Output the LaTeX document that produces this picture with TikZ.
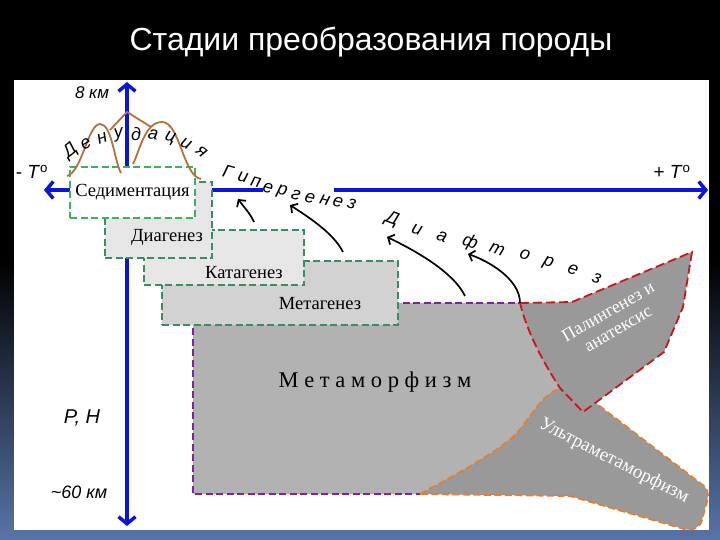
\documentclass[tikz,border=0pt]{standalone}
\usepackage{fontspec}
\setmainfont{Liberation Serif}
\setsansfont{Liberation Sans}
\usetikzlibrary{arrows.meta, positioning, calc}

\definecolor{axisblue}{RGB}{12,20,215}
\definecolor{sedgreen}{RGB}{64,176,96}
\definecolor{stagegreen}{RGB}{58,140,98}
\definecolor{metapurple}{RGB}{130,30,170}
\definecolor{palred}{RGB}{205,20,25}
\definecolor{ultraorange}{RGB}{232,125,45}
\definecolor{hillbrown}{RGB}{180,112,62}
\definecolor{bgblue}{RGB}{88,116,168}
\definecolor{lightfill}{RGB}{230,230,230}
\definecolor{midfill}{RGB}{210,210,210}
\definecolor{metafill}{RGB}{178,178,178}
\definecolor{deepfill}{RGB}{153,153,153}

\begin{document}
\begin{tikzpicture}[
    x=1pt, y=-1pt,
    axis/.style={
        axisblue,
        line width=3.5pt,
        -{Straight Barb[length=7pt, width=17pt]}
    },
    stagebox/.style={
        draw=stagegreen,
        line width=1.8pt,
        dash pattern=on 7pt off 3.5pt,
        anchor=north west,
        inner sep=0pt,
        outer sep=0pt
    },
    stagetext/.style={
        font=\fontsize{18.5}{21}\selectfont
    },
    regiontext/.style={
        font=\fontsize{18}{20}\selectfont,
        text=white
    },
    axislabel/.style={
        font=\sffamily\itshape\fontsize{17}{19}\selectfont
    },
    spreadletter/.style={
        font=\sffamily\itshape\fontsize{18}{20}\selectfont,
        inner sep=0pt
    },
    hill/.style={hillbrown, line width=1.8pt},
    flowarrow/.style={
        black,
        line width=1.7pt,
        -{Straight Barb[length=5pt, width=11pt]}
    }
]

    % Slide background and panel
    \useasboundingbox (0,0) rectangle (720,540);
    \fill[black] (0,0) rectangle (720,540);
    \shade[top color=black, bottom color=bgblue] (0,260) rectangle (720,540);
    \fill[white] (14,80) rectangle (709,530);

    % Title
    \node[text=white, font=\sffamily\fontsize{32}{36}\selectfont] (title) at (371,42) {Стадии преобразования породы};

    % Metamorphism
    \fill[metafill] (193,303) -- (525,303) -- (583,412) -- (500,494) -- (193,494) -- cycle;
    \draw[metapurple, line width=1.8pt, dash pattern=on 7pt off 3.5pt] (525,303) -- (193,303) -- (193,494) -- (420,494);
    \node[font=\fontsize{22.5}{24}\selectfont] (metaT) at (375,382) {М е т а м о р ф и з м};

    % Ultrametamorphism
    \filldraw[fill=deepfill, draw=ultraorange, line width=1.8pt, dash pattern=on 7pt off 3.5pt]
        (420,494) .. controls (465,470) and (500,450) .. (517,433)
        .. controls (530,418) and (540,398) .. (556,390) -- (585,382) -- (597,404)
        -- (704,486) .. controls (710,492) and (708,498) .. (706,505) -- (702,520)
        .. controls (700,528) and (692,531) .. (684,529) -- (570,496) -- cycle;
    \node[regiontext, font=\fontsize{19}{21}\selectfont, rotate=-27] (ultraT) at (614,461) {Ультраметаморфизм};

    % Palingenesis
    \coordinate (palTL) at (520,303);
    \filldraw[fill=deepfill, draw=palred, line width=1.8pt, dash pattern=on 9pt off 4pt]
        (palTL) -- (572,302) -- (692,252) -- (683,307) -- (664,352) -- (583,412) -- (560,388)
        .. controls (545,365) and (528,335) .. (palTL) -- cycle;
    \node[regiontext, rotate=30, align=center] (palT) at (613,320) {Палингенез и\\анатексис};

    % Axes
    \coordinate (orig) at (127,190);
    \coordinate (tminus) at (44,190);
    \coordinate (tplus) at (708,190);
    \coordinate (hup) at (127,82);
    \coordinate (hdown) at (127,526);
    \coordinate (gapL) at (263,190);
    \coordinate (gapR) at (334,190);
    \draw[axis] (gapL) -- (tminus);
    \draw[axis] (gapR) -- (tplus);
    \draw[axis] (orig) -- (hup);
    \draw[axis] (orig) -- (hdown);

    % Stages
    \node[stagebox, fill=midfill, minimum width=236pt, minimum height=64pt] (metag) at (162,261) {};
    \node[stagebox, fill=lightfill, minimum width=160pt, minimum height=55pt] (katag) at (144,230) {};
    \node[stagebox, fill=lightfill, minimum width=107pt, minimum height=76pt] (diag) at (105,182) {};
    \node[stagebox, draw=sedgreen, fill=white, minimum width=125pt, minimum height=51pt] (sedim) at (70,167) {};
    \node[stagetext] (sedimT) at (sedim.center) {Седиментация};
    \node[stagetext] (diagT) at (167,237) {Диагенез};
    \node[stagetext] (katagT) at (244,273) {Катагенез};
    \node[stagetext] (metagT) at (320,304) {Метагенез};

    % Axis labels
    \node[axislabel] (km8) at (92,93) {8 км};
    \node[axislabel, font=\sffamily\itshape\fontsize{18}{20}\selectfont] (km60) at (79,492) {\textasciitilde60 км};
    \node[axislabel, font=\sffamily\itshape\fontsize{20}{22}\selectfont] (ph) at (82,418) {P, H};
    \node[axislabel, font=\sffamily\fontsize{19}{21}\selectfont] (tmin) at (32,172) {- \textit{T}\textsuperscript{o}};
    \node[axislabel, font=\sffamily\fontsize{19}{21}\selectfont] (tmax) at (672,172) {+ \textit{T}\textsuperscript{o}};

    % Denudation
    \draw[hill] (67,176) .. controls (82,172) and (88,124) .. (100,124) .. controls (112,124) and (114,160) .. (121,173);
    \draw[hill] (110,130) -- (127,112) -- (151,127);
    \draw[hill] (133,164) .. controls (140,150) and (145,122) .. (162,122) .. controls (180,122) and (183,176) .. (201,179);
    \foreach \ch [count=\i from 0] in {Д,е,н,у,д,а,ц,и,я} {
        \pgfmathsetmacro\ang{-30+7.5*\i}
        \node[spreadletter, rotate=-1.3*\ang]
            (den\i) at ({136+131*sin(\ang)},{265-131*cos(\ang)}) {\ch};
    }

    % Hypergenesis
    \foreach \ch/\px/\py [count=\i] in {Г/228/172, и/243/177, п/256/182, е/268/188, р/282/192,
                                        г/296/195, е/310/198, н/325/200, е/338/202, з/352/204} {
        \node[spreadletter, rotate=-15] (hyp\i) at (\px,\py) {\ch};
    }

    % Diaphthoresis
    \foreach \ch/\px/\py [count=\i] in {Д/392/220, и/417/230, а/442/237, ф/470/243, т/497/250,
                                        о/525/255, р/548/263, е/573/270, з/597/278} {
        \node[spreadletter, rotate=-20] (dia\i) at (\px,\py) {\ch};
    }

    % Process arrows
    \coordinate (hypAs) at (254,222);
    \coordinate (hypAe) at (238,199);
    \coordinate (hypBs) at (343,252);
    \coordinate (hypBe) at (290,205);
    \coordinate (diaAs) at (465,296);
    \coordinate (diaAe) at (387,237);
    \coordinate (diaBe) at (468,254);
    \draw[flowarrow] (hypAs) .. controls +(-4,-9) and +(5,7) .. (hypAe);
    \draw[flowarrow] (hypBs) .. controls +(-10,-20) and +(15,10) .. (hypBe);
    \draw[flowarrow] (diaAs) .. controls +(-12,-25) and +(25,12) .. (diaAe);
    \draw[flowarrow] (palTL) .. controls +(0,-25) and +(18,6) .. (diaBe);

\end{tikzpicture}
\end{document}
